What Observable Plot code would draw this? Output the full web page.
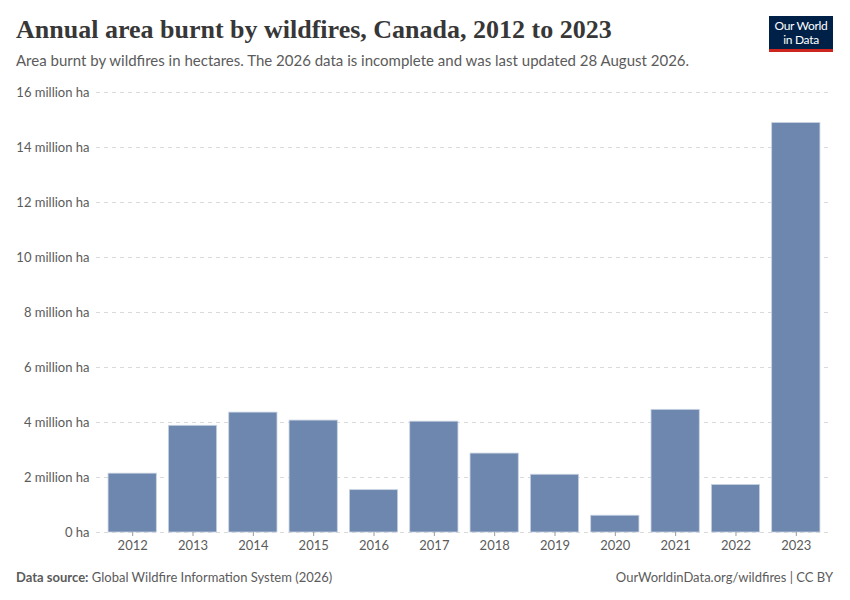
<!DOCTYPE html>
<html>
<head>
<meta charset="utf-8">
<script src="https://cdn.jsdelivr.net/npm/d3@7"></script>
<script src="https://cdn.jsdelivr.net/npm/@observablehq/plot@0.6"></script>
<style>
  html, body { margin: 0; padding: 0; background: #fff; }
  #wrap { position: relative; width: 850px; height: 600px; font-family: Lato, "Open Sans", sans-serif; overflow: hidden; }
  #title { position: absolute; left: 16px; top: 15px; font-family: "Liberation Serif", "DejaVu Serif", serif; font-size: 26px; font-weight: bold; color: #373737; white-space: nowrap; letter-spacing: 0px; }
  #subtitle { position: absolute; left: 16px; top: 51px; font-size: 15px; color: #5b5b5b; white-space: nowrap; }
  #logo { position: absolute; left: 769px; top: 16px; width: 64px; height: 36px; background: #002147; border-bottom: 3px solid #ce261e; box-sizing: border-box; color: #fff; font-size: 12px; line-height: 14px; text-align: center; padding-top: 3px; letter-spacing: -0.3px; }
  #logo div { height: 14px; }
  #chart { position: absolute; left: 0; top: 80px; }
  #footL { position: absolute; left: 16px; top: 569px; font-size: 13px; color: #5b5b5b; }
  #footR { position: absolute; right: 17px; top: 569px; font-size: 13px; color: #5b5b5b; }
</style>
</head>
<body>
<div id="wrap">
  <div id="title">Annual area burnt by wildfires, Canada, 2012 to 2023</div>
  <div id="subtitle">Area burnt by wildfires in hectares. The 2026 data is incomplete and was last updated 28 August 2026.</div>
  <div id="logo"><div>Our World</div><div>in Data</div></div>
  <div id="chart"></div>
  <div id="footL"><b>Data source:</b> Global Wildfire Information System (2026)</div>
  <div id="footR">OurWorldinData.org/wildfires | CC BY</div>
</div>
<script>
const years = ["2012","2013","2014","2015","2016","2017","2018","2019","2020","2021","2022","2023"];
const areaHa = [2140000, 3880000, 4360000, 4070000, 1540000, 4030000, 2870000, 2100000, 610000, 4460000, 1730000, 14890000];
const yTicks = [0, 2e6, 4e6, 6e6, 8e6, 10e6, 12e6, 14e6, 16e6];

const data = years.map((y, i) => ({year: y, area: areaHa[i]}));
const fmt = d => d === 0 ? "0 ha" : (d / 1e6) + " million ha";

const chart = Plot.plot({
  width: 850,
  height: 480,
  marginLeft: 96,
  marginRight: 18,
  marginTop: 12,
  marginBottom: 28,
  style: {fontFamily: "Lato, sans-serif", fontSize: "13px", color: "#5b5b5b", background: "transparent"},
  x: {domain: years, padding: 0.2, round: false},
  y: {domain: [0, 16e6], ticks: yTicks},
  marks: [
    Plot.gridY(yTicks, {stroke: "#dadada", strokeOpacity: 1, strokeDasharray: "4,4"}),
    Plot.barY(data, {x: "year", y: "area", fill: "#6d87ae", stroke: "#c9d3e2", strokeWidth: 0.8}),
    Plot.ruleY([0], {stroke: "#999", x1: 95, x2: 833}),
    Plot.axisY(yTicks, {tickFormat: fmt, tickSize: 0, tickPadding: 7, fill: "#5b5b5b", fontSize: 13, label: null}),
    Plot.axisX({tickSize: 4, tickPadding: 4, stroke: "#999", fill: "#5b5b5b", fontSize: 13, label: null})
  ]
});
document.getElementById("chart").appendChild(chart);
</script>
</body>
</html>
